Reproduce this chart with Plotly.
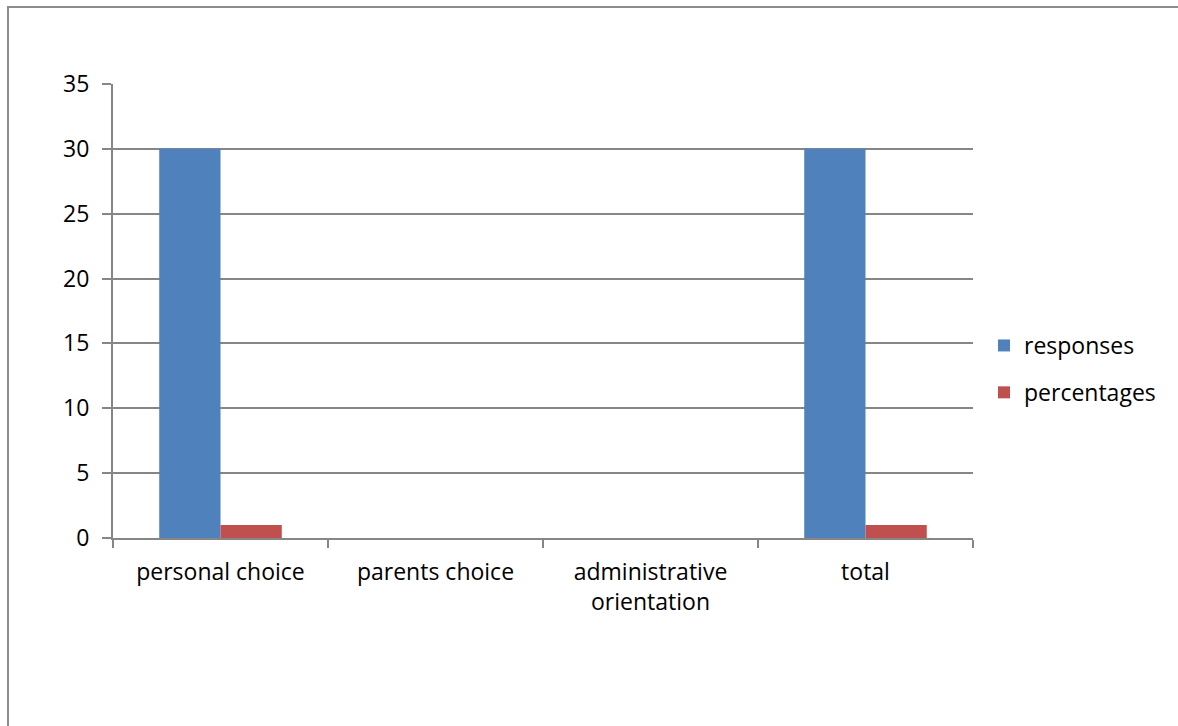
import plotly.graph_objects as go

categories = ["personal choice", "parents choice", "administrative<br>orientation", "total"]
responses = [30, 0, 0, 30]
percentages = [1, 0, 0, 1]
y_ticks = [0, 5, 10, 15, 20, 25, 30, 35]

BLUE = "#4F81BD"
RED = "#C0504D"
GRID = "#868686"
FONT = "Open Sans"
FS = 23

W, H = 1178, 726
L, R, T, B = 113, 205, 84, 188
pw, ph = W - L - R, H - T - B


def px_x(x):
    return (x - L) / pw


def px_y(y):
    return (H - B - y) / ph


fig = go.Figure()
fig.add_trace(go.Bar(name="responses", x=categories, y=responses,
                     marker=dict(color=BLUE, line=dict(width=0)),
                     legendgroup="a"))
fig.add_trace(go.Bar(name="percentages", x=categories, y=percentages,
                     marker=dict(color=RED, line=dict(width=0)),
                     legendgroup="b"))

fig.update_layout(
    width=W, height=H,
    margin=dict(l=L, r=R, t=T, b=B, pad=0),
    paper_bgcolor="white", plot_bgcolor="white",
    barmode="group", bargap=0.43, bargroupgap=0,
    font=dict(family=FONT, size=FS, color="#000000"),
    showlegend=True,
    legend=dict(x=px_x(984), y=px_y(324), xanchor="left", yanchor="top",
                font=dict(family=FONT, size=FS, color="#000000"),
                traceorder="grouped", tracegroupgap=14,
                itemwidth=30, bgcolor="rgba(0,0,0,0)"),
    xaxis=dict(type="category", tickson="boundaries", ticks="outside",
               ticklen=8, tickcolor=GRID, tickwidth=2,
               showline=True, linecolor=GRID, linewidth=2,
               showgrid=False, ticklabelstandoff=12,
               tickfont=dict(family=FONT, size=FS, color="#000000")),
    yaxis=dict(range=[0, 35], tickvals=y_ticks, ticks="outside",
               ticklen=9, tickcolor=GRID, tickwidth=2,
               showline=True, linecolor=GRID, linewidth=2,
               showgrid=True, gridcolor=GRID, gridwidth=1.5,
               zeroline=False, ticklabelstandoff=8,
               tickfont=dict(family=FONT, size=FS, color="#000000")),
    shapes=[dict(type="rect", xref="paper", yref="paper",
                 x0=px_x(8), x1=1.4, y0=-0.6, y1=px_y(7),
                 line=dict(color="#8C8C8C", width=2), fillcolor="rgba(0,0,0,0)",
                 layer="below")],
)

fig.write_html("out.html")
